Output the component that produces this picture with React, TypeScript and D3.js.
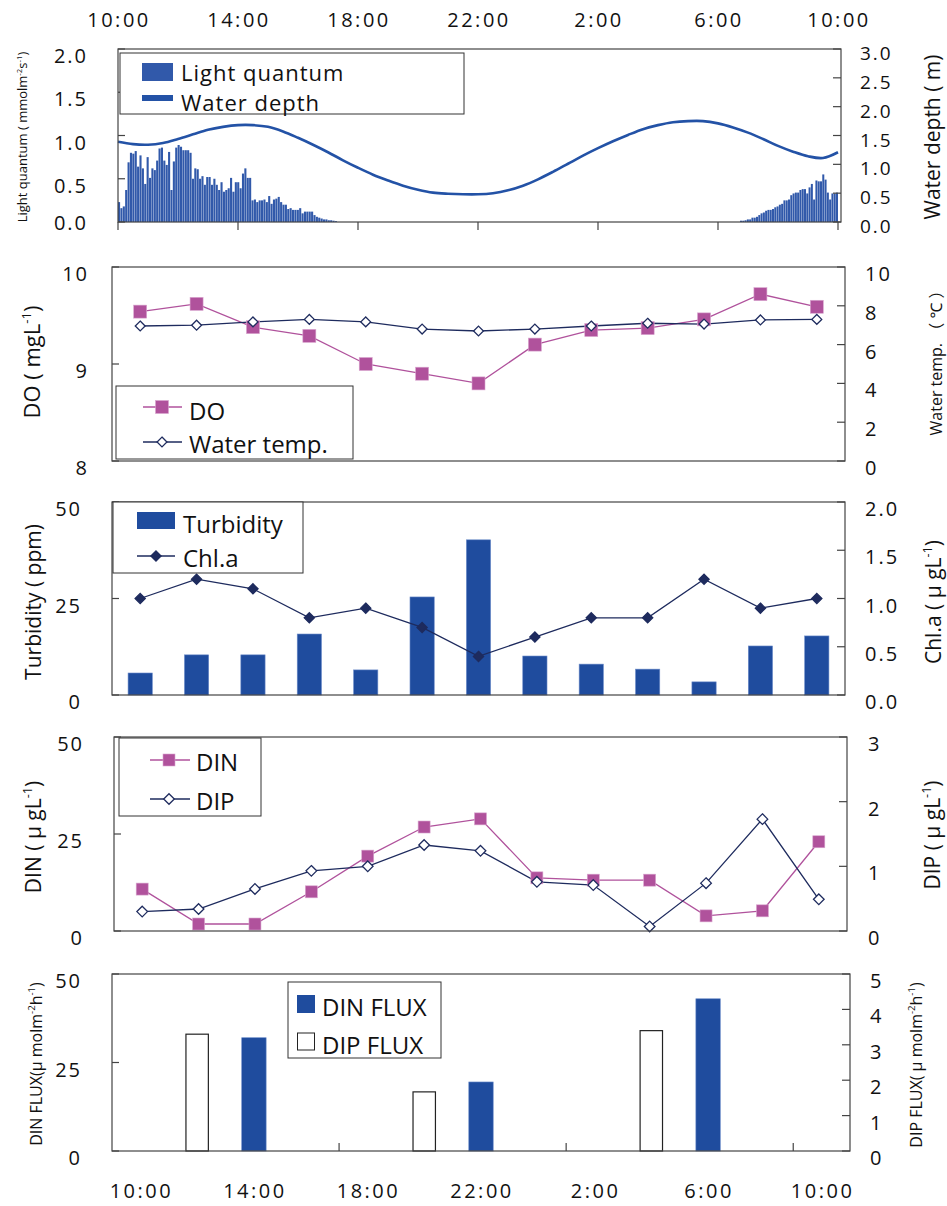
import React from 'react';
import * as d3 from 'd3';

// axis labels
const timeLabels = ['10:00', '14:00', '18:00', '22:00', '2:00', '6:00', '10:00'];
const sampleTimes = ['10:00', '12:00', '14:00', '16:00', '18:00', '20:00', '22:00', '0:00', '2:00', '4:00', '6:00', '8:00', '10:00'];

// light quantum (mmol m-2 s-1), afternoon and next morning runs
const lightPmSpan = ['10:00', '17:18'];
const lightPm = [
  0.23, 0.16, 0.18, 0.37, 0.69, 0.8, 0.79, 0.82, 0.64, 0.77, 0.62, 0.44, 0.75, 0.51, 0.62, 0.6,
  0.71, 0.85, 0.86, 0.71, 0.66, 0.81, 0.37, 0.7, 0.86, 0.89, 0.87, 0.83, 0.83, 0.83, 0.8, 0.5,
  0.62, 0.61, 0.5, 0.53, 0.43, 0.52, 0.52, 0.43, 0.5, 0.43, 0.37, 0.46, 0.35, 0.37, 0.39, 0.51,
  0.35, 0.46, 0.46, 0.39, 0.56, 0.62, 0.51, 0.51, 0.25, 0.26, 0.23, 0.25, 0.25, 0.26, 0.23, 0.3,
  0.21, 0.26, 0.27, 0.29, 0.23, 0.2, 0.2, 0.15, 0.16, 0.14, 0.14, 0.14, 0.16, 0.1, 0.12, 0.12,
  0.12, 0.12, 0.08, 0.06, 0.05, 0.04, 0.03, 0.03, 0.02, 0.02, 0.015, 0.01,
];
const lightAmSpan = ['6:44', '10:00'];
const lightAm = [
  0.015, 0.015, 0.02, 0.03, 0.03, 0.05, 0.05, 0.06, 0.08, 0.1, 0.11, 0.13, 0.14, 0.14, 0.15,
  0.17, 0.18, 0.2, 0.21, 0.25, 0.25, 0.26, 0.31, 0.33, 0.34, 0.34, 0.37, 0.38, 0.38, 0.33, 0.4,
  0.44, 0.26, 0.48, 0.47, 0.47, 0.55, 0.49, 0.34, 0.26, 0.33, 0.33, 0.34,
];

// water depth (m), every 30 min from 10:00
const depthStepMin = 30;
const waterDepth = [
  1.39, 1.35, 1.34, 1.37, 1.44, 1.52, 1.6, 1.65, 1.68, 1.68, 1.65, 1.57, 1.46, 1.34, 1.21, 1.07,
  0.94, 0.82, 0.72, 0.63, 0.56, 0.51, 0.49, 0.48, 0.48, 0.5, 0.55, 0.63, 0.74, 0.87, 1.01, 1.15,
  1.28, 1.4, 1.51, 1.61, 1.68, 1.73, 1.75, 1.75, 1.71, 1.64, 1.55, 1.44, 1.32, 1.22, 1.14, 1.11,
  1.21,
];

// 2-hourly samples
const doValues = [9.54, 9.62, 9.38, 9.29, 9.0, 8.9, 8.8, 9.2, 9.35, 9.37, 9.46, 9.72, 9.59];
const waterTemp = [6.96, 7.0, 7.17, 7.3, 7.17, 6.8, 6.7, 6.8, 6.96, 7.1, 7.06, 7.27, 7.3];
const turbidity = [5.7, 10.4, 10.4, 15.8, 6.5, 25.4, 40.2, 10.1, 8.0, 6.7, 3.4, 12.7, 15.3];
const chla = [1.0, 1.2, 1.1, 0.8, 0.9, 0.7, 0.4, 0.6, 0.8, 0.8, 1.2, 0.9, 1.0];
const din = [10.8, 1.8, 1.8, 10.1, 19.3, 26.8, 28.9, 13.7, 13.1, 13.1, 3.9, 5.2, 23.0];
const dip = [0.3, 0.34, 0.65, 0.93, 1.0, 1.33, 1.24, 0.76, 0.71, 0.07, 0.74, 1.73, 0.49];
const dinFlux = [null, null, 32, null, null, null, 19.5, null, null, null, 43, null, null];
const dipFlux = [null, 3.3, null, null, null, 1.67, null, null, null, 3.4, null, null, null];

const FONT = "'Open Sans', 'Noto Sans', 'Noto Sans CJK JP', sans-serif";
const BLUE = '#1f4c9e';
const LIGHT_BLUE = '#3159aa';
const MAGENTA = '#b0529c';
const NAVY = '#1e2b5e';
const FRAME = '#444';

const toMin = (t: string, end = false) => {
  const [h, m] = t.split(':').map(Number);
  let v = (h - 10) * 60 + m;
  if (v < 0 || (end && v === 0)) v += 1440;
  return v;
};

type Part = string | { sup: string };

const VTitle = ({ x, y, size, parts }: { x: number; y: number; size: number; parts: Part[] }) => {
  const shift = size * 0.42;
  return (
    <text transform={`translate(${x},${y}) rotate(-90)`} textAnchor="middle" fontSize={size} fontFamily={FONT} fill="#111">
      {parts.map((p, i) => {
        const prevSup = i > 0 && typeof parts[i - 1] !== 'string';
        if (typeof p === 'string') return <tspan key={i} dy={prevSup ? shift : 0}>{p}</tspan>;
        return <tspan key={i} fontSize={size * 0.6} dy={prevSup ? 0 : -shift}>{p.sup}</tspan>;
      })}
    </text>
  );
};

type Frame = { x0: number; x1: number; y0: number; y1: number };

const Axes = ({ f, yL, yR, lt, rt, lfmt, rfmt, lx, rx, clampBottom = false, rSize = 20, rOff = 14 }: any) => {
  const by = (v: number, s: any) => (clampBottom ? Math.min(s(v) + 14, f.y1 + 8) : s(v) + 14);
  return (
    <g>
      <rect x={f.x0} y={f.y0} width={f.x1 - f.x0} height={f.y1 - f.y0} fill="none" stroke={FRAME} strokeWidth={1.2} />
      {lt.map((t: number) => (
        <g key={'l' + t}>
          <line x1={f.x0} x2={f.x0 + 7} y1={yL(t)} y2={yL(t)} stroke={FRAME} strokeWidth={1.2} />
          <text x={lx + 2} y={by(t, yL)} textAnchor="end" fontSize={20} letterSpacing={2} fontFamily={FONT} fill="#111">
            {lfmt(t)}
          </text>
        </g>
      ))}
      {rt.map((t: number) => (
        <g key={'r' + t}>
          <line x1={f.x1 - 8} x2={f.x1} y1={yR(t)} y2={yR(t)} stroke={FRAME} strokeWidth={1.2} />
          <text x={rx} y={yR(t) + rOff} fontSize={rSize} letterSpacing={2} fontFamily={FONT} fill="#111">
            {rfmt(t)}
          </text>
        </g>
      ))}
    </g>
  );
};

const f1 = d3.format('.1f');
const f0 = d3.format('d');

const catScale = (f: Frame) =>
  d3.scaleBand<number>().domain(d3.range(sampleTimes.length)).range([f.x0, f.x1]).paddingInner(0.57).paddingOuter(0.285);

const Square = ({ x, y, s, fill }: any) => <rect x={x - s / 2} y={y - s / 2} width={s} height={s} fill={fill} stroke="#d9a6cf" strokeWidth={0.6} />;
const Diamond = ({ x, y, area, fill }: any) => (
  <path d={d3.symbol(d3.symbolDiamond2, area)()!} transform={`translate(${x},${y})`} fill={fill} stroke={NAVY} strokeWidth={1.3} />
);

export default function App() {
  // ---------- panel 1 ----------
  const p1: Frame = { x0: 118, x1: 841, y0: 49, y1: 222 };
  const xT = d3.scaleLinear().domain([0, 1440]).range([118, 838]);
  const yLight = d3.scaleLinear().domain([0, 2]).range([p1.y1, p1.y0]);
  const yDepth = d3.scaleLinear().domain([0, 3]).range([p1.y1, p1.y0]);
  const pmBand = d3.scaleBand<number>().domain(d3.range(lightPm.length))
    .range([xT(toMin(lightPmSpan[0])), xT(toMin(lightPmSpan[1], true))]).paddingInner(0.12);
  const amBand = d3.scaleBand<number>().domain(d3.range(lightAm.length))
    .range([xT(toMin(lightAmSpan[0])), xT(toMin(lightAmSpan[1], true))]).paddingInner(0.12);
  const depthLine = d3.line<number>()
    .x((_, i) => xT(i * depthStepMin))
    .y((d) => yDepth(d))
    .curve(d3.curveCatmullRom);
  const timeTicks = d3.range(0, 1441, 240);

  // ---------- panel 2 ----------
  const p2: Frame = { x0: 112, x1: 845, y0: 267, y1: 461 };
  const x2 = catScale(p2);
  const yDO = d3.scaleLinear().domain([8, 10]).range([p2.y1, p2.y0]);
  const yWT = d3.scaleLinear().domain([0, 10]).range([p2.y1, p2.y0]);
  const c2 = (i: number) => x2(i)! + x2.bandwidth() / 2;

  // ---------- panel 3 ----------
  const p3: Frame = { x0: 112, x1: 845, y0: 502, y1: 695 };
  const x3 = catScale(p3);
  const yTb = d3.scaleLinear().domain([0, 50]).range([p3.y1, p3.y0]);
  const yCh = d3.scaleLinear().domain([0, 2]).range([p3.y1, p3.y0]);
  const c3 = (i: number) => x3(i)! + x3.bandwidth() / 2;

  // ---------- panel 4 ----------
  const p4: Frame = { x0: 114, x1: 847, y0: 737, y1: 931 };
  const x4 = catScale(p4);
  const yDIN = d3.scaleLinear().domain([0, 50]).range([p4.y1, p4.y0]);
  const yDIP = d3.scaleLinear().domain([0, 3]).range([p4.y1, p4.y0]);
  const c4 = (i: number) => x4(i)! + x4.bandwidth() / 2;

  // ---------- panel 5 ----------
  const p5: Frame = { x0: 112, x1: 850, y0: 974, y1: 1151 };
  const x5 = catScale(p5);
  const yNF = d3.scaleLinear().domain([0, 50]).range([p5.y1, p5.y0]);
  const yPF = d3.scaleLinear().domain([0, 5]).range([p5.y1, p5.y0]);
  const c5 = (i: number) => x5(i)! + x5.bandwidth() / 2;

  const lineXY = (cx: (i: number) => number, ys: any) =>
    d3.line<number>().x((_, i) => cx(i)).y((d) => ys(d));

  return (
    <svg width={947} height={1206} style={{ position: 'absolute', left: 0, top: 0, display: 'block' }}>
      <rect width={947} height={1206} fill="#fff" />

      {/* ===== Panel 1: light quantum & water depth ===== */}
      {timeTicks.map((t, i) => (
        <g key={'tt' + i}>
          <text x={xT(t) + 1} y={27} textAnchor="middle" fontSize={20} letterSpacing={2.5} fontFamily={FONT} fill="#111">
            {timeLabels[i]}
          </text>
          <line x1={xT(t)} x2={xT(t)} y1={p1.y1} y2={p1.y1 + 8} stroke={FRAME} strokeWidth={1.2} />
        </g>
      ))}
      {lightPm.map((v, i) => (
        <rect key={'pm' + i} x={pmBand(i)} y={yLight(v)} width={pmBand.bandwidth()} height={p1.y1 - yLight(v)} fill={LIGHT_BLUE} />
      ))}
      {lightAm.map((v, i) => (
        <rect key={'am' + i} x={amBand(i)} y={yLight(v)} width={amBand.bandwidth()} height={p1.y1 - yLight(v)} fill={LIGHT_BLUE} />
      ))}
      <path d={depthLine(waterDepth)!} fill="none" stroke="#2352a6" strokeWidth={2.6} />
      <Axes f={p1} yL={yLight} yR={yDepth} lt={[0, 0.5, 1, 1.5, 2]} rt={[0, 0.5, 1, 1.5, 2, 2.5, 3]}
        lfmt={f1} rfmt={f1} lx={86} rx={860} clampBottom rSize={19} rOff={11} />
      <g fontFamily={FONT} fontSize={22} fill="#111">
        <rect x={120} y={53} width={344} height={61} fill="#fff" stroke="#333" strokeWidth={1} />
        <rect x={142} y={63} width={31} height={18} fill={LIGHT_BLUE} />
        <text x={181} y={81} letterSpacing={1}>Light quantum</text>
        <line x1={142} x2={173} y1={98} y2={98} stroke="#2352a6" strokeWidth={6} />
        <text x={181} y={111} letterSpacing={1}>Water depth</text>
      </g>
      <VTitle x={27} y={137} size={13} parts={['Light quantum ( mmolm', { sup: '-2' }, 's', { sup: '-1' }, ')']} />
      <VTitle x={940} y={137} size={21} parts={['Water depth ( m)']} />

      {/* ===== Panel 2: DO & water temperature ===== */}
      <path d={lineXY(c2, yDO)(doValues)!} fill="none" stroke={MAGENTA} strokeWidth={1.3} />
      <path d={lineXY(c2, yWT)(waterTemp)!} fill="none" stroke={NAVY} strokeWidth={1.3} />
      {doValues.map((v, i) => <Square key={'do' + i} x={c2(i)} y={yDO(v)} s={13} fill={MAGENTA} />)}
      {waterTemp.map((v, i) => <Diamond key={'wt' + i} x={c2(i)} y={yWT(v)} area={62} fill="#fff" />)}
      <Axes f={p2} yL={yDO} yR={yWT} lt={[8, 9, 10]} rt={[0, 2, 4, 6, 8, 10]} lfmt={f0} rfmt={f0} lx={87} rx={865} />
      <g fontFamily={FONT} fontSize={24} fill="#111">
        <rect x={116} y={386} width={237} height={73} fill="#fff" stroke="#333" strokeWidth={1} />
        <line x1={143} x2={182} y1={407} y2={407} stroke={MAGENTA} strokeWidth={1.3} />
        <Square x={162} y={407} s={13} fill={MAGENTA} />
        <text x={189} y={420}>DO</text>
        <line x1={143} x2={182} y1={442} y2={442} stroke={NAVY} strokeWidth={1.3} />
        <Diamond x={162} y={442} area={62} fill="#fff" />
        <text x={189} y={453}>Water temp.</text>
      </g>
      <VTitle x={40} y={362} size={22} parts={['DO ( mgL', { sup: '-1' }, ')']} />
      <VTitle x={942} y={359} size={16} parts={['Water temp. （ ℃ ）']} />

      {/* ===== Panel 3: turbidity & Chl.a ===== */}
      {turbidity.map((v, i) => (
        <rect key={'tb' + i} x={x3(i)} y={yTb(v)} width={x3.bandwidth()} height={p3.y1 - yTb(v)} fill={BLUE} stroke="#6b8bc9" strokeWidth={0.6} />
      ))}
      <path d={lineXY(c3, yCh)(chla)!} fill="none" stroke={NAVY} strokeWidth={1.3} />
      {chla.map((v, i) => <Diamond key={'ch' + i} x={c3(i)} y={yCh(v)} area={66} fill={NAVY} />)}
      <Axes f={p3} yL={yTb} yR={yCh} lt={[0, 25, 50]} rt={[0, 0.5, 1, 1.5, 2]} lfmt={f0} rfmt={f1} lx={80} rx={865} />
      <g fontFamily={FONT} fontSize={24} fill="#111">
        <rect x={113} y={502} width={190} height={71} fill="#fff" stroke="#333" strokeWidth={1} />
        <rect x={137} y={512} width={38} height={17} fill={BLUE} />
        <text x={183} y={533}>Turbidity</text>
        <line x1={137} x2={175} y1={556} y2={556} stroke={NAVY} strokeWidth={1.3} />
        <Diamond x={156} y={556} area={66} fill={NAVY} />
        <text x={183} y={567}>Chl.a</text>
      </g>
      <VTitle x={41} y={602} size={21} parts={['Turbidity ( ppm)']} />
      <VTitle x={941} y={602} size={21} parts={['Chl.a ( μ gL', { sup: '-1' }, ')']} />

      {/* ===== Panel 4: DIN & DIP ===== */}
      <path d={lineXY(c4, yDIN)(din)!} fill="none" stroke={MAGENTA} strokeWidth={1.3} />
      <path d={lineXY(c4, yDIP)(dip)!} fill="none" stroke={NAVY} strokeWidth={1.3} />
      {din.map((v, i) => <Square key={'dn' + i} x={c4(i)} y={yDIN(v)} s={12} fill={MAGENTA} />)}
      {dip.map((v, i) => <Diamond key={'dp' + i} x={c4(i)} y={yDIP(v)} area={72} fill="#fff" />)}
      <Axes f={p4} yL={yDIN} yR={yDIP} lt={[0, 25, 50]} rt={[0, 1, 2, 3]} lfmt={f0} rfmt={f0} lx={82} rx={868} />
      <g fontFamily={FONT} fontSize={24} fill="#111">
        <rect x={119} y={738} width={142} height={78} fill="#fff" stroke="#333" strokeWidth={1} />
        <line x1={150} x2={190} y1={760} y2={760} stroke={MAGENTA} strokeWidth={1.3} />
        <Square x={169} y={760} s={12} fill={MAGENTA} />
        <text x={196} y={771}>DIN</text>
        <line x1={150} x2={190} y1={799} y2={799} stroke={NAVY} strokeWidth={1.3} />
        <Diamond x={169} y={799} area={72} fill="#fff" />
        <text x={196} y={810}>DIP</text>
      </g>
      <VTitle x={41} y={837} size={21} parts={['DIN ( μ gL', { sup: '-1' }, ')']} />
      <VTitle x={940} y={835} size={21} parts={['DIP ( μ gL', { sup: '-1' }, ')']} />

      {/* ===== Panel 5: fluxes ===== */}
      {dinFlux.map((v, i) =>
        v == null ? null : (
          <rect key={'nf' + i} x={x5(i)} y={yNF(v)} width={x5.bandwidth()} height={p5.y1 - yNF(v)} fill={BLUE} stroke="#6b8bc9" strokeWidth={0.6} />
        ))}
      {dipFlux.map((v, i) =>
        v == null ? null : (
          <rect key={'pf' + i} x={x5(i)! + 1} y={yPF(v)} width={x5.bandwidth() - 2} height={p5.y1 - yPF(v)} fill="#fff" stroke="#222" strokeWidth={1.2} />
        ))}
      {[4, 8, 12].map((i) => {
        const bx = (x5(i - 1)! + x5.bandwidth() + x5(i)!) / 2;
        return <line key={'xt' + i} x1={bx} x2={bx} y1={p5.y1} y2={p5.y1 - 8} stroke={FRAME} strokeWidth={1.2} />;
      })}
      <Axes f={p5} yL={yNF} yR={yPF} lt={[0, 25, 50]} rt={[0, 1, 2, 3, 4, 5]} lfmt={f0} rfmt={f0} lx={80} rx={870} />
      {sampleTimes.map((t, i) =>
        i % 2 ? null : (
          <text key={'bt' + i} x={c5(i) + 1} y={1198} textAnchor="middle" fontSize={20} letterSpacing={2.5} fontFamily={FONT} fill="#111">
            {t}
          </text>
        ))}
      <g fontFamily={FONT} fontSize={24} fill="#111">
        <rect x={288} y={982} width={153} height={76} fill="#fff" stroke="#333" strokeWidth={1} />
        <rect x={297} y={995} width={18} height={18} fill={BLUE} />
        <text x={322} y={1016}>DIN FLUX</text>
        <rect x={297.5} y={1033} width={17} height={17} fill="#fff" stroke="#222" strokeWidth={1} />
        <text x={322} y={1054}>DIP FLUX</text>
      </g>
      <VTitle x={42} y={1064} size={16} parts={['DIN FLUX(μ molm', { sup: '-2' }, 'h', { sup: '-1' }, ')']} />
      <VTitle x={922} y={1065} size={16} parts={['DIP FLUX( μ molm', { sup: '-2' }, 'h', { sup: '-1' }, ')']} />
    </svg>
  );
}
